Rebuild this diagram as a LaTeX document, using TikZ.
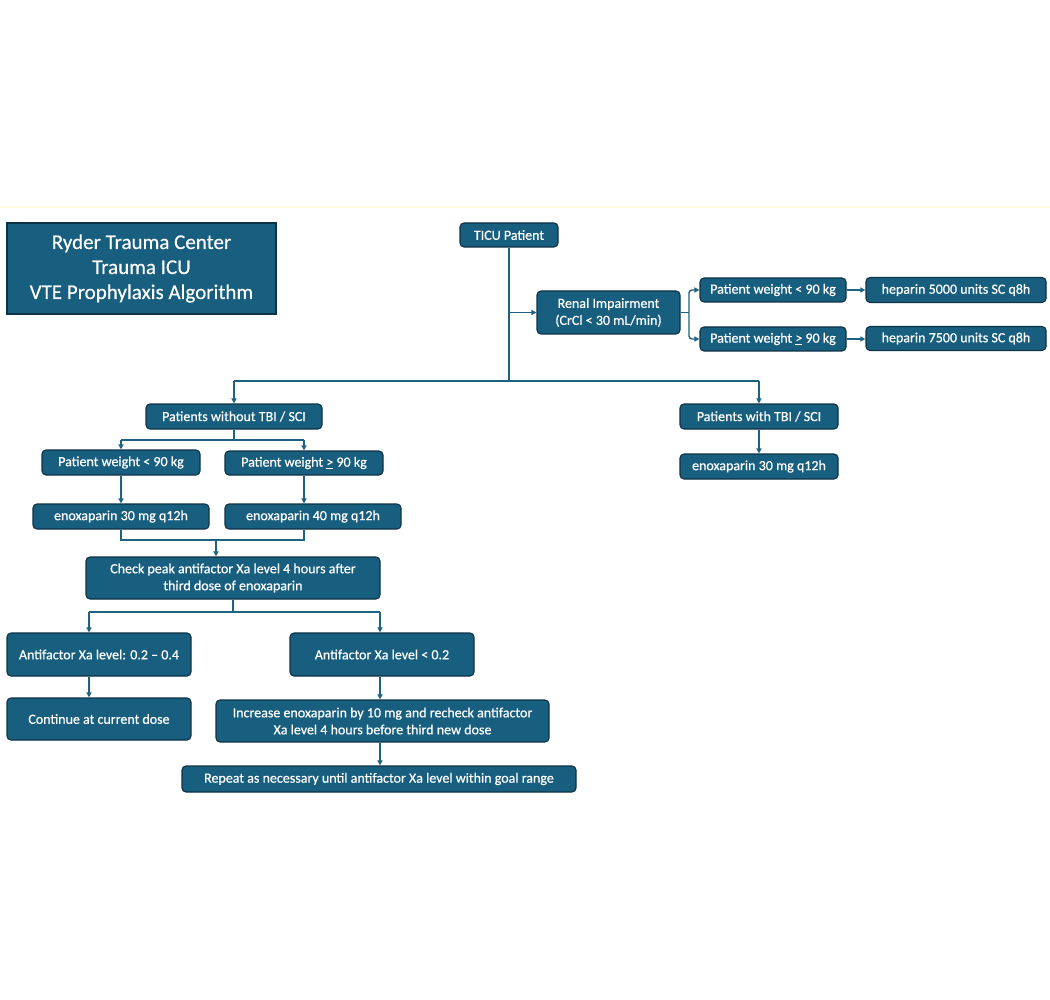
\documentclass[tikz,border=0pt]{standalone}
\usepackage{fontspec}
\setmainfont{Carlito}
\newfontfamily\boxfont{Carlito}[FakeBold=0.6]
\newfontfamily\titlefont{Carlito}[FakeBold=0.3]
\usetikzlibrary{arrows.meta}
\definecolor{boxc}{RGB}{24,94,126}
\definecolor{bordc}{RGB}{14,50,70}
\definecolor{linec}{RGB}{30,98,130}
\definecolor{faint}{RGB}{255,250,226}
\begin{document}
\begin{tikzpicture}[x=1pt,y=-1pt,
  bx/.style 2 args={draw=bordc, fill=boxc, rounded corners=4pt, text=white,
    font=\boxfont\fontsize{14}{17}\selectfont, align=center, inner sep=0pt,
    line width=1.1pt, minimum width=#1pt, minimum height=#2pt},
  conn/.style={draw=linec, line width=1.4pt},
  arr/.style={conn, -{Triangle[length=5pt,width=5pt]}}]
\useasboundingbox (0,0) rectangle (1050,1000);
\fill[white] (0,0) rectangle (1050,1000);
\draw[faint, line width=2pt] (0,207) -- (1050,207);

% title
\node[bx={269}{91}, rounded corners=0pt, font=\titlefont\fontsize{21}{25}\selectfont] (title) at (141.5,268.5)
  {Ryder Trauma Center\\Trauma ICU\\VTE Prophylaxis Algorithm};

% top branch
\node[bx={98}{24}] (ticu) at (509,235) {TICU Patient};
\node[bx={143}{43}] (renal) at (608.5,312.5) {Renal Impairment\\(CrCl < 30 mL/min)};
\node[bx={146}{24}] (rw1) at (773,290) {Patient weight < 90 kg};
\node[bx={146}{24}] (rw2) at (773,339) {Patient weight \underline{>} 90 kg};
\node[bx={180}{25}] (hep1) at (956,290) {heparin 5000 units SC q8h};
\node[bx={180}{24}] (hep2) at (956,338.5) {heparin 7500 units SC q8h};

% middle
\node[bx={176}{25}] (nots) at (234,416.5) {Patients without TBI / SCI};
\node[bx={158}{25}] (withs) at (759,416.5) {Patients with TBI / SCI};
\node[bx={158}{25}] (enoxR) at (759,466.5) {enoxaparin 30 mg q12h};
\node[bx={158}{25}] (lw1) at (121,462.5) {Patient weight < 90 kg};
\node[bx={158}{24}] (lw2) at (304,463) {Patient weight \underline{>} 90 kg};
\node[bx={176}{25}] (enox30) at (121,516.5) {enoxaparin 30 mg q12h};
\node[bx={176}{25}] (enox40) at (313,516.5) {enoxaparin 40 mg q12h};

% bottom
\node[bx={294}{42}] (check) at (233,578) {Check peak antifactor Xa level 4 hours after\\third dose of enoxaparin};
\node[bx={184}{43}] (af1) at (99,654.5) {Antifactor Xa level: 0.2 – 0.4};
\node[bx={184}{43}] (af2) at (382,654.5) {Antifactor Xa level < 0.2};
\node[bx={184}{42}] (cont) at (99,719) {Continue at current dose};
\node[bx={333}{42}] (incr) at (382.5,721) {Increase enoxaparin by 10 mg and recheck antifactor\\Xa level 4 hours before third new dose};
\node[bx={394}{26}] (rep) at (379,779) {Repeat as necessary until antifactor Xa level within goal range};

% helper coordinates
\coordinate (bus) at (0,381);
\coordinate (rb) at (689,0);
\coordinate (b2) at (0,440);
\coordinate (b3) at (0,540);
\coordinate (m3) at (216,540);
\coordinate (b4) at (0,612);
\coordinate (c1) at (89,0);
\coordinate (c2) at (380,0);

% trunk
\draw[conn] (ticu.south) -- (ticu.south |- bus);
\draw[arr] (ticu.south |- renal.west) -- (renal.west);
\draw[conn] (nots.north |- bus) -- (withs.north |- bus);
\draw[arr] (nots.north |- bus) -- (nots.north);
\draw[arr] (withs.north |- bus) -- (withs.north);

% renal branch
\draw[conn] (renal.east) -- (renal.east -| rb);
\draw[arr, rounded corners=3pt] (renal.east -| rb) |- (rw1.west);
\draw[arr, rounded corners=3pt] (renal.east -| rb) |- (rw2.west);
\draw[arr] (rw1.east) -- (rw1.east -| hep1.west);
\draw[arr] (rw2.east) -- (rw2.east -| hep2.west);

% with TBI
\draw[arr] (withs.south) -- (enoxR.north);

% without TBI
\draw[conn] (nots.south) -- (nots.south |- b2);
\draw[conn] (lw1.north |- b2) -- (lw2.north |- b2);
\draw[arr] (lw1.north |- b2) -- (lw1.north);
\draw[arr] (lw2.north |- b2) -- (lw2.north);
\draw[arr] (lw1.south) -- (lw1.south |- enox30.north);
\draw[arr] (lw2.south) -- (lw2.south |- enox40.north);
\draw[conn] (lw1.south |- enox30.south) -- (lw1.south |- b3) -- (lw2.south |- b3) -- (lw2.south |- enox40.south);
\draw[arr] (m3) -- (m3 |- check.north);

% check branch
\draw[conn] (check.south) -- (check.south |- b4);
\draw[conn] (c1 |- b4) -- (c2 |- b4);
\draw[arr] (c1 |- b4) -- (c1 |- af1.north);
\draw[arr] (c2 |- b4) -- (c2 |- af2.north);
\draw[arr] (c1 |- af1.south) -- (c1 |- cont.north);
\draw[arr] (c2 |- af2.south) -- (c2 |- incr.north);
\draw[arr] (c2 |- incr.south) -- (c2 |- rep.north);
\end{tikzpicture}
\end{document}
